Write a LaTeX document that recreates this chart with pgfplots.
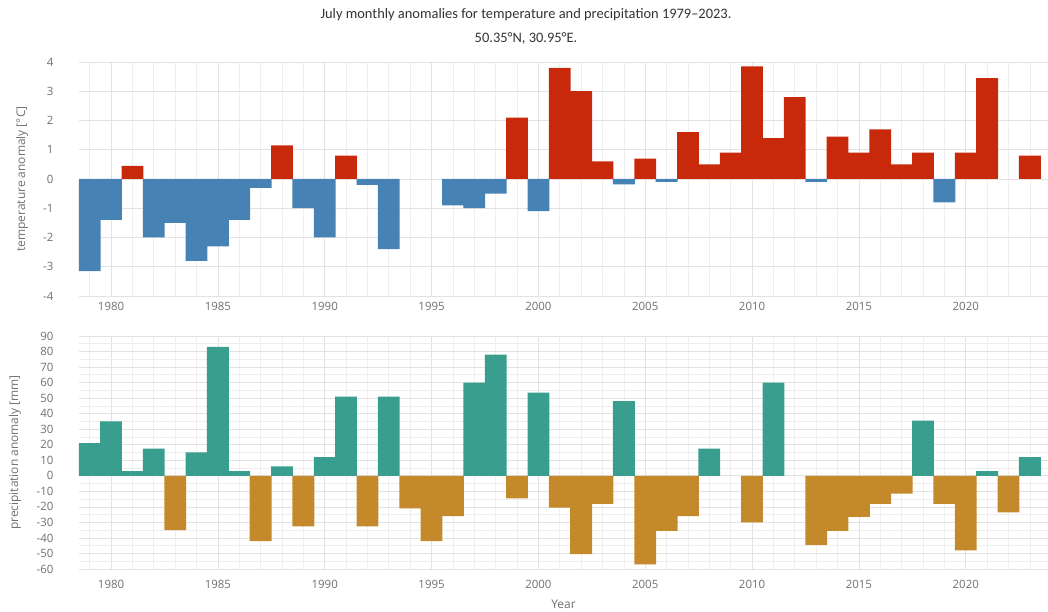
\documentclass[border=0pt]{standalone}
\usepackage{fontspec}
\setmainfont{Open Sans}
\newfontfamily\titlefont{Carlito}
\usepackage{pgfplots}
\pgfplotsset{compat=1.18}

\definecolor{warm}{HTML}{C8290A}
\definecolor{cool}{HTML}{4682B4}
\definecolor{wet}{HTML}{3A9E8E}
\definecolor{dry}{HTML}{C4892A}
\definecolor{ticktext}{HTML}{707070}
\definecolor{titletext}{HTML}{333333}
\definecolor{gridmaj}{HTML}{E2E2E2}
\definecolor{gridmin}{HTML}{EEEEEE}

\pgfplotsset{
  anom/.style={
    scale only axis,
    width=969bp,
    xmin=1978.5, xmax=2023.85,
    axis line style={draw=none},
    major tick length=0pt, minor tick length=0pt,
    xtick={1980,1985,...,2020},
    minor xtick={1979,1981,1982,1983,1984,1986,1987,1988,1989,1991,1992,1993,
      1994,1996,1997,1998,1999,2001,2002,2003,2004,2006,2007,2008,2009,2011,
      2012,2013,2014,2016,2017,2018,2019,2021,2022,2023},
    grid=both,
    major grid style={gridmaj, line width=0.7pt},
    minor grid style={gridmin, line width=0.7pt},
    /pgf/number format/assume math mode=true,
    xticklabel style={/pgf/number format/1000 sep={}, text=ticktext,
      font=\fontsize{11.5}{13}\selectfont},
    yticklabel style={text=ticktext, font=\fontsize{11.5}{13}\selectfont,
      anchor=east, xshift=-22bp},
    clip=false,
  },
  anombar/.style={ybar, bar width=1.02, bar shift=0pt, fill=#1, draw=none},
  ylab/.style={every axis y label/.style={at={(axis description cs:0,0.5)},
    xshift=-#1, rotate=90, anchor=center, text=ticktext,
    font=\fontsize{12}{14}\selectfont}},
}

\begin{document}
\begin{tikzpicture}[x=1bp,y=1bp]
\useasboundingbox (0,0) rectangle (1048,612);

\node[font=\titlefont\fontsize{14.5}{16}\selectfont, text=titletext] at (526,597)
  {July monthly anomalies for temperature and precipitation 1979–2023.};
\node[font=\titlefont\fontsize{14.5}{16}\selectfont, text=titletext] at (526,574)
  {50.35°N, 30.95°E.};

% temperature anomalies
\begin{axis}[anom,
  at={(79bp,316bp)}, anchor=south west,
  height=234bp,
  ymin=-4, ymax=4, ytick={-4,...,4},
  xticklabel style={yshift=-3bp},
  ylabel={temperature anomaly [°C]},
  ylab=57bp,
]
\addplot[anombar=warm] coordinates {
  (1981,0.45) (1988,1.15) (1991,0.8) (1999,2.1) (2001,3.8) (2002,3.0)
  (2003,0.6) (2005,0.7) (2007,1.6) (2008,0.5) (2009,0.9) (2010,3.85)
  (2011,1.4) (2012,2.8) (2014,1.45) (2015,0.9) (2016,1.7) (2017,0.5)
  (2018,0.9) (2020,0.9) (2021,3.45) (2023,0.8)
};
\addplot[anombar=cool] coordinates {
  (1979,-3.15) (1980,-1.4) (1982,-2.0) (1983,-1.5) (1984,-2.8) (1985,-2.3)
  (1986,-1.4) (1987,-0.3) (1989,-1.0) (1990,-2.0) (1992,-0.2) (1993,-2.4)
  (1996,-0.9) (1997,-1.0) (1998,-0.5) (2000,-1.1) (2004,-0.18) (2006,-0.1)
  (2013,-0.1) (2019,-0.8)
};
\end{axis}

% precipitation anomalies
\begin{axis}[anom,
  at={(79bp,43bp)}, anchor=south west,
  height=233bp,
  ymin=-60, ymax=90, ytick={-60,-50,...,90},
  minor ytick={-55,-45,...,85},
  xticklabel style={yshift=-8bp},
  xlabel={Year},
  xlabel style={text=ticktext, font=\fontsize{12}{14}\selectfont, yshift=-4bp},
  ylabel={precipitation anomaly [mm]},
  ylab=64bp,
]
\addplot[anombar=wet] coordinates {
  (1979,21) (1980,35) (1981,3) (1982,17.5) (1984,15) (1985,83) (1986,3)
  (1988,6) (1990,12) (1991,51) (1993,51) (1997,60) (1998,78) (2000,53.5)
  (2004,48) (2008,17.5) (2011,60) (2018,35.5) (2021,3) (2023,12)
};
\addplot[anombar=dry] coordinates {
  (1983,-35) (1987,-42) (1989,-32.5) (1992,-32.5) (1994,-21) (1995,-42)
  (1996,-26) (1999,-14.5) (2001,-20.5) (2002,-50.5) (2003,-18) (2005,-57)
  (2006,-35.5) (2007,-26) (2010,-30) (2013,-44.5) (2014,-35.5) (2015,-26.5)
  (2016,-18) (2017,-11.5) (2019,-18) (2020,-48) (2022,-23.5)
};
\end{axis}
\end{tikzpicture}
\end{document}
